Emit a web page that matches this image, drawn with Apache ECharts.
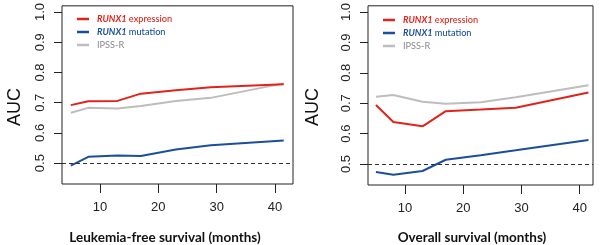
<!DOCTYPE html>
<html><head><meta charset="utf-8">
<script src="https://cdn.jsdelivr.net/npm/echarts@6/dist/echarts.min.js"></script>
<style>html,body{margin:0;padding:0;background:#fff}#c{width:600px;height:245px}</style>
</head><body><div id="c"></div>
<script>
var months = [5, 8, 13, 17, 23, 29, 41.5];
var lfsExpression = [0.692, 0.705, 0.706, 0.730, 0.741, 0.751, 0.761];
var lfsMutation   = [0.492, 0.521, 0.525, 0.524, 0.545, 0.559, 0.575];
var lfsIpss       = [0.667, 0.683, 0.681, 0.689, 0.706, 0.716, 0.764];
var osExpression  = [0.694, 0.638, 0.624, 0.674, 0.679, 0.685, 0.735];
var osMutation    = [0.474, 0.465, 0.477, 0.514, 0.529, 0.545, 0.579];
var osIpss        = [0.721, 0.727, 0.705, 0.698, 0.703, 0.720, 0.759];
var xTicks = [10, 20, 30, 40];
var yTicks = [0.5, 0.6, 0.7, 0.8, 0.9, 1.0];
var refLine = 0.5;
var names = ['RUNX1 expression', 'RUNX1 mutation', 'IPSS-R'];
var xTitles = ['Leukemia-free survival (months)', 'Overall survival (months)'];
var yTitle = 'AUC';

var RED = '#e2231a', BLUE = '#1b4f9c', GREY = '#bdbdbd', GREYTXT = '#8a8a8a';
var colors = [RED, BLUE, GREY];
var LF = 9.2;
function pairs(ys){ return months.map(function(m,i){ return [m, ys[i]]; }); }

function xAxis(idx, min, max){
  return {type:'value', gridIndex:idx, min:min, max:max,
    axisLine:{show:false}, splitLine:{show:false},
    axisTick:{show:true, inside:false, length:9, customValues:xTicks, lineStyle:{color:'#222', width:1}},
    axisLabel:{customValues:xTicks, margin:17, color:'#222', fontSize:13, fontFamily:'Liberation Sans'}};
}
function yAxis(idx){
  return {type:'value', gridIndex:idx, min:0.431, max:1.0205,
    axisLine:{show:false}, splitLine:{show:false},
    axisTick:{show:true, inside:false, length:8, customValues:yTicks, lineStyle:{color:'#222', width:1}},
    axisLabel:{customValues:yTicks, rotate:90, margin:15, color:'#222', fontSize:13, fontFamily:'Liberation Sans',
      formatter:function(v){ return v.toFixed(1); }}};
}
function legend(left, top){
  return {orient:'vertical', left:left, top:top, padding:0, itemWidth:12, itemHeight:2.5, itemGap:2, icon:'rect',
    data:names.map(function(n,i){ return {name:n, itemStyle:{color:colors[i]}}; }),
    selectedMode:false,
    textStyle:{fontFamily:'Lato', fontSize:LF, lineHeight:11, padding:[0,0,0,3],
      rich:{
        ri:{color:RED, fontStyle:'italic', fontWeight:'bold', fontFamily:'Lato', fontSize:LF},
        r:{color:RED, fontWeight:'500', fontFamily:'Lato', fontSize:LF},
        bi:{color:BLUE, fontStyle:'italic', fontWeight:'bold', fontFamily:'Lato', fontSize:LF},
        b:{color:BLUE, fontWeight:'500', fontFamily:'Lato', fontSize:LF},
        g:{color:GREYTXT, fontFamily:'Lato', fontSize:LF}
      }},
    formatter:function(n){
      if(n===names[0]) return '{ri|RUNX1}{r| expression}';
      if(n===names[1]) return '{bi|RUNX1}{b| mutation}';
      return '{g|IPSS-R}';
    }};
}
function series(idx, ys, i){
  return {type:'line', name:names[i], xAxisIndex:idx, yAxisIndex:idx, data:pairs(ys),
    showSymbol:false, symbol:'none', lineStyle:{color:colors[i], width:2}, itemStyle:{color:colors[i]},
    z: 3 - i, animation:false};
}
function refSeries(idx){
  return {type:'line', xAxisIndex:idx, yAxisIndex:idx, data:[], silent:true, animation:false,
    markLine:{symbol:['none','none'], silent:true, label:{show:false}, animation:false,
      lineStyle:{color:'#333', type:[4,3], width:1}, data:[{yAxis:refLine}]}};
}

var chart = echarts.init(document.getElementById('c'), null, {renderer:'canvas'});
chart.setOption({
  animation:false,
  grid:[
    {left:62, top:4, width:231, height:180, show:true, borderColor:'#222', borderWidth:1, backgroundColor:'transparent'},
    {left:368, top:4, width:225, height:181, show:true, borderColor:'#222', borderWidth:1, backgroundColor:'transparent'}
  ],
  xAxis:[xAxis(0, 3.49, 43.09), xAxis(1, 3.64, 42.28)],
  yAxis:[yAxis(0), yAxis(1)],
  legend:[legend(77, 13.5), legend(383, 14.5)],
  series:[
    refSeries(0),
    series(0, lfsIpss, 2), series(0, lfsMutation, 1), series(0, lfsExpression, 0),
    refSeries(1),
    series(1, osIpss, 2), series(1, osMutation, 1), series(1, osExpression, 0)
  ],
  graphic:[
    {type:'text', x:15, y:107, rotation:Math.PI/2, style:{text:yTitle, fontFamily:'Liberation Sans', fontSize:18, fill:'#111', align:'center', verticalAlign:'middle'}},
    {type:'text', x:313, y:107, rotation:Math.PI/2, style:{text:yTitle, fontFamily:'Liberation Sans', fontSize:18, fill:'#111', align:'center', verticalAlign:'middle'}},
    {type:'text', x:165, y:238, style:{text:xTitles[0], fontFamily:'Lato', fontWeight:'bold', fontSize:13.5, fill:'#111', align:'center', verticalAlign:'middle'}},
    {type:'text', x:472, y:238, style:{text:xTitles[1], fontFamily:'Lato', fontWeight:'bold', fontSize:13.5, fill:'#111', align:'center', verticalAlign:'middle'}}
  ]
});
</script></body></html>
